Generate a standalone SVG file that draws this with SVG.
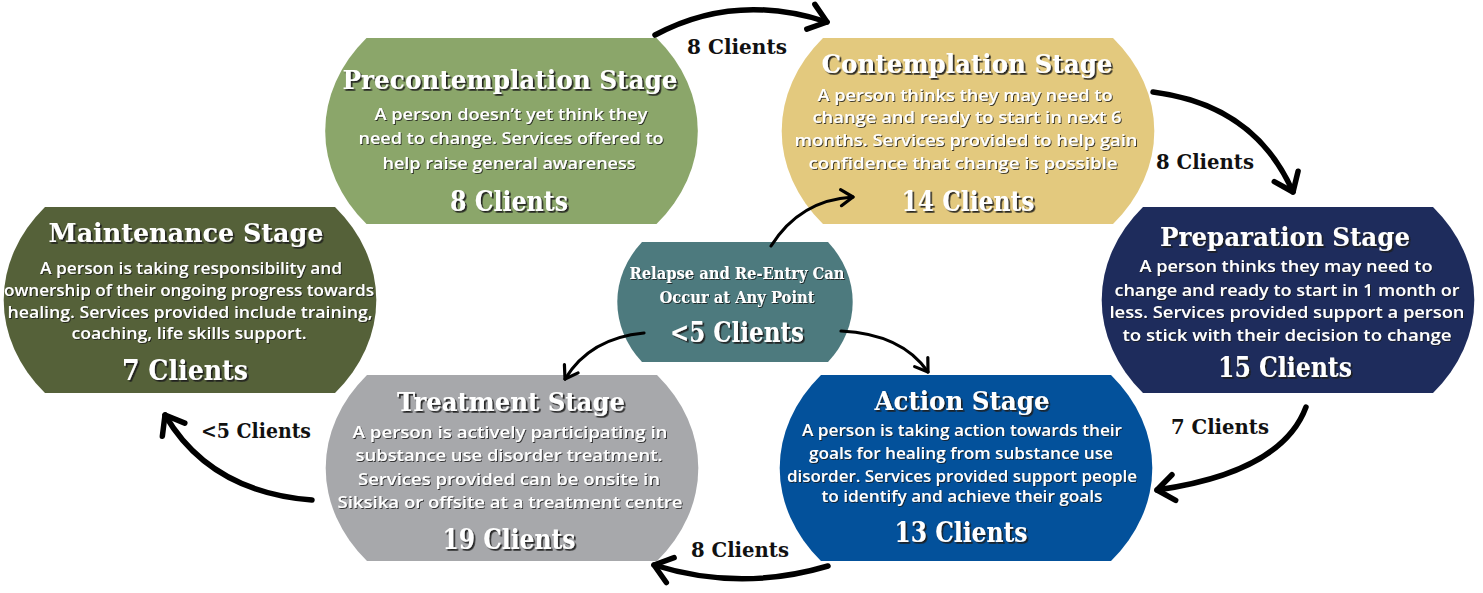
<svg xmlns="http://www.w3.org/2000/svg" width="1483" height="593" viewBox="0 0 1483 593">
<defs>
<filter id="sh" x="-10%" y="-30%" width="120%" height="160%">
<feDropShadow dx="1.7" dy="1.7" stdDeviation="0.2" flood-color="#1a1a1a" flood-opacity="0.95"/>
</filter>
<filter id="sh2" x="-10%" y="-30%" width="120%" height="160%">
<feDropShadow dx="1" dy="1" stdDeviation="0.2" flood-color="#1a1a1a" flood-opacity="0.8"/>
</filter>
<marker id="ah" markerUnits="userSpaceOnUse" viewBox="-22 -18 28 36" markerWidth="28" markerHeight="36" refX="0" refY="0" orient="auto">
<path d="M-17,-13 L0,0 L-17,13" fill="none" stroke="#000" stroke-width="5.5" stroke-linecap="round" stroke-linejoin="round"/>
</marker>
<marker id="ahs" markerUnits="userSpaceOnUse" viewBox="-16 -12 20 24" markerWidth="20" markerHeight="24" refX="0" refY="0" orient="auto">
<path d="M-12,-8 L0,0 L-12,8" fill="none" stroke="#000" stroke-width="3.2" stroke-linecap="round" stroke-linejoin="round"/>
</marker>
</defs>
<style>
.title{font-family:"DejaVu Serif","Liberation Serif",serif;font-weight:bold;font-size:26px;fill:#fff;text-anchor:middle;filter:url(#sh)}
.body{font-family:"Open Sans","Liberation Sans",sans-serif;font-weight:600;font-size:16px;fill:#fff;text-anchor:middle;filter:url(#sh2)}
.cli{font-family:"DejaVu Serif","Liberation Serif",serif;font-weight:bold;font-size:27px;fill:#fff;text-anchor:middle;filter:url(#sh)}
.rel{font-family:"DejaVu Serif","Liberation Serif",serif;font-weight:bold;font-size:16.5px;fill:#fff;text-anchor:middle;filter:url(#sh2)}
.lab{font-family:"DejaVu Serif","Liberation Serif",serif;font-weight:bold;font-size:20px;fill:#111;text-anchor:middle}
.arr{fill:none;stroke:#000;stroke-width:5.5;stroke-linecap:round;marker-end:url(#ah)}
.arrs{fill:none;stroke:#000;stroke-width:3.2;stroke-linecap:round;marker-end:url(#ahs)}
</style>
<rect width="1483" height="593" fill="#fff"/>

<g id="precontemplation">
<path d="M366.5,38 L656.5,38 A186 148 0 0 1 656.5,224 L366.5,224 A186 148 0 0 1 366.5,38 Z" fill="#8ba66a"/>
<text class="title" x="510" y="89" textLength="335" lengthAdjust="spacingAndGlyphs">Precontemplation Stage</text>
<text class="body" x="511" y="120" textLength="273" lengthAdjust="spacingAndGlyphs">A person doesn’t yet think they</text>
<text class="body" x="511" y="144" textLength="305" lengthAdjust="spacingAndGlyphs">need to change. Services offered to</text>
<text class="body" x="509" y="169" textLength="253" lengthAdjust="spacingAndGlyphs">help raise general awareness</text>
<text class="cli" x="509" y="211" textLength="118" lengthAdjust="spacingAndGlyphs">8 Clients</text>
</g>

<g id="contemplation">
<path d="M823,38 L1113,38 A186 148 0 0 1 1113,224 L823,224 A186 148 0 0 1 823,38 Z" fill="#e3c97e"/>
<text class="title" x="967" y="73" textLength="291" lengthAdjust="spacingAndGlyphs">Contemplation Stage</text>
<text class="body" x="965" y="101" textLength="295" lengthAdjust="spacingAndGlyphs">A person thinks they may need to</text>
<text class="body" x="967" y="123" textLength="309" lengthAdjust="spacingAndGlyphs">change and ready to start in next 6</text>
<text class="body" x="966" y="146" textLength="343" lengthAdjust="spacingAndGlyphs">months. Services provided to help gain</text>
<text class="body" x="963" y="169" textLength="309" lengthAdjust="spacingAndGlyphs">confidence that change is possible</text>
<text class="cli" x="968" y="211" textLength="133" lengthAdjust="spacingAndGlyphs">14 Clients</text>
</g>

<g id="maintenance">
<path d="M45,207 L335,207 A186 148 0 0 1 335,393 L45,393 A186 148 0 0 1 45,207 Z" fill="#556139"/>
<text class="title" x="186" y="242" textLength="275" lengthAdjust="spacingAndGlyphs">Maintenance Stage</text>
<text class="body" x="191" y="274" textLength="302" lengthAdjust="spacingAndGlyphs">A person is taking responsibility and</text>
<text class="body" x="189" y="296" textLength="370" lengthAdjust="spacingAndGlyphs">ownership of their ongoing progress towards</text>
<text class="body" x="190" y="318" textLength="365" lengthAdjust="spacingAndGlyphs">healing. Services provided include training,</text>
<text class="body" x="189" y="339" textLength="235" lengthAdjust="spacingAndGlyphs">coaching, life skills support.</text>
<text class="cli" x="185" y="380" textLength="126" lengthAdjust="spacingAndGlyphs">7 Clients</text>
</g>

<g id="preparation">
<path d="M1143,207 L1433,207 A186 148 0 0 1 1433,393 L1143,393 A186 148 0 0 1 1143,207 Z" fill="#1e2c5c"/>
<text class="title" x="1285" y="246" textLength="250" lengthAdjust="spacingAndGlyphs">Preparation Stage</text>
<text class="body" x="1286" y="272" textLength="293" lengthAdjust="spacingAndGlyphs">A person thinks they may need to</text>
<text class="body" x="1287" y="296" textLength="345" lengthAdjust="spacingAndGlyphs">change and ready to start in 1 month or</text>
<text class="body" x="1287" y="318" textLength="355" lengthAdjust="spacingAndGlyphs">less. Services provided support a person</text>
<text class="body" x="1287" y="341" textLength="329" lengthAdjust="spacingAndGlyphs">to stick with their decision to change</text>
<text class="cli" x="1285" y="377" textLength="134" lengthAdjust="spacingAndGlyphs">15 Clients</text>
</g>

<g id="relapse">
<path d="M642,242 L828,242 A118 98 0 0 1 828,362 L642,362 A118 98 0 0 1 642,242 Z" fill="#4d7a7e"/>
<text class="rel" x="737" y="279" textLength="215" lengthAdjust="spacingAndGlyphs">Relapse and Re-Entry Can</text>
<text class="rel" x="737" y="303" textLength="155" lengthAdjust="spacingAndGlyphs">Occur at Any Point</text>
<text class="cli" x="737" y="342" textLength="134" lengthAdjust="spacingAndGlyphs">&lt;5 Clients</text>
</g>

<g id="treatment">
<path d="M367,375 L657,375 A186 148 0 0 1 657,561 L367,561 A186 148 0 0 1 367,375 Z" fill="#a7a8ab"/>
<text class="title" x="511" y="411" textLength="228" lengthAdjust="spacingAndGlyphs">Treatment Stage</text>
<text class="body" x="510" y="438" textLength="315" lengthAdjust="spacingAndGlyphs">A person is actively participating in</text>
<text class="body" x="509" y="461" textLength="307" lengthAdjust="spacingAndGlyphs">substance use disorder treatment.</text>
<text class="body" x="509" y="485" textLength="302" lengthAdjust="spacingAndGlyphs">Services provided can be onsite in</text>
<text class="body" x="510" y="508" textLength="345" lengthAdjust="spacingAndGlyphs">Siksika or offsite at a treatment centre</text>
<text class="cli" x="509" y="549" textLength="133" lengthAdjust="spacingAndGlyphs">19 Clients</text>
</g>

<g id="action">
<path d="M821,375 L1111,375 A186 148 0 0 1 1111,561 L821,561 A186 148 0 0 1 821,375 Z" fill="#03519b"/>
<text class="title" x="962" y="410" textLength="175" lengthAdjust="spacingAndGlyphs">Action Stage</text>
<text class="body" x="962" y="436" textLength="320" lengthAdjust="spacingAndGlyphs">A person is taking action towards their</text>
<text class="body" x="961" y="459" textLength="304" lengthAdjust="spacingAndGlyphs">goals for healing from substance use</text>
<text class="body" x="962" y="482" textLength="350" lengthAdjust="spacingAndGlyphs">disorder. Services provided support people</text>
<text class="body" x="962" y="502" textLength="281" lengthAdjust="spacingAndGlyphs">to identify and achieve their goals</text>
<text class="cli" x="961" y="542" textLength="133" lengthAdjust="spacingAndGlyphs">13 Clients</text>
</g>

<g id="connectors">
<path class="arr" d="M655,35 Q735,-8 827,22"/>
<path class="arr" d="M1153,92 Q1255,105 1293,192"/>
<path class="arr" d="M1306,407 Q1282,472 1157,490"/>
<path class="arr" d="M828,566 Q740,592 654,565"/>
<path class="arr" d="M312,500 Q210,492 165,415"/>
<path class="arrs" d="M771,246 Q800,200 853,197"/>
<path class="arrs" d="M644,333 Q590,338 565,379"/>
<path class="arrs" d="M841,331 Q902,334 928,372"/>
<text class="lab" x="737" y="54" textLength="100" lengthAdjust="spacingAndGlyphs">8 Clients</text>
<text class="lab" x="1205" y="169" textLength="98" lengthAdjust="spacingAndGlyphs">8 Clients</text>
<text class="lab" x="1220" y="434" textLength="98" lengthAdjust="spacingAndGlyphs">7 Clients</text>
<text class="lab" x="740" y="557" textLength="98" lengthAdjust="spacingAndGlyphs">8 Clients</text>
<text class="lab" x="256" y="438" textLength="110" lengthAdjust="spacingAndGlyphs">&lt;5 Clients</text>
</g>
</svg>
